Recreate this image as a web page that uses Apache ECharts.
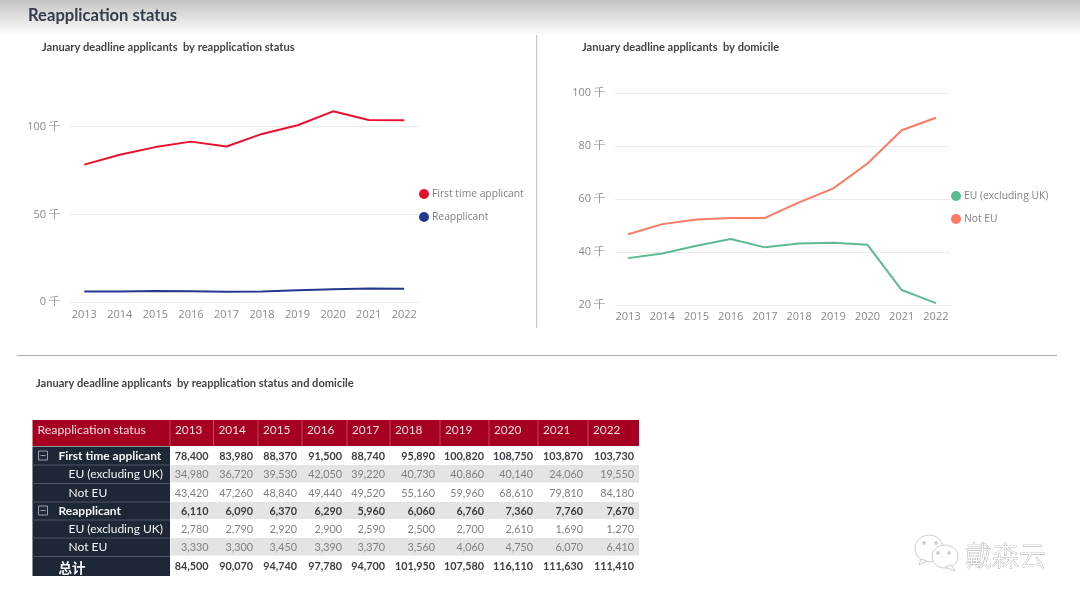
<!DOCTYPE html>
<html><head><meta charset="utf-8">
<style>html,body{margin:0;padding:0;background:#fff}#c{width:1080px;height:603px}</style>
<script src="https://cdn.jsdelivr.net/npm/echarts@6/dist/echarts.min.js"></script>
</head><body><div id="c"></div>
<script>
const years = ['2013','2014','2015','2016','2017','2018','2019','2020','2021','2022'];
const firstTime = [78400,83980,88370,91500,88740,95890,100820,108750,103870,103730];
const firstTimeEU = [34980,36720,39530,42050,39220,40730,40860,40140,24060,19550];
const firstTimeNotEU = [43420,47260,48840,49440,49520,55160,59960,68610,79810,84180];
const reapplicant = [6110,6090,6370,6290,5960,6060,6760,7360,7760,7670];
const reapplicantEU = [2780,2790,2920,2900,2590,2500,2700,2610,1690,1270];
const reapplicantNotEU = [3330,3300,3450,3390,3370,3560,4060,4750,6070,6410];
const grandTotal = [84500,90070,94740,97780,94700,101950,107580,116110,111630,111410];
const domicileEU = [37760,39510,42450,44950,41810,43230,43560,42750,25750,20820];
const domicileNotEU = [46750,50560,52290,52830,52890,58720,64020,73360,85880,90590];
const statusTicksMax = 100000;

const tableRows = [
  {label:'First time applicant', values:firstTime, kind:'group'},
  {label:'EU (excluding UK)', values:firstTimeEU, kind:'sub'},
  {label:'Not EU', values:firstTimeNotEU, kind:'sub'},
  {label:'Reapplicant', values:reapplicant, kind:'group'},
  {label:'EU (excluding UK)', values:reapplicantEU, kind:'sub'},
  {label:'Not EU', values:reapplicantNotEU, kind:'sub'},
  {label:'总计', values:grandTotal, kind:'total'}
];
const colEdges = [170,213.5,258,302,347,390,440,489,538,588,639];
const rowEdges = [447,465,483.5,502,520,538,556.5,576];
const tableLeft = 32.5, headTop = 420, headBottom = 446;
const fmt = v => v.toLocaleString('en-US');
const FONT = 'Lato', AX = '"Open Sans"';

function tableGraphics(){
  const g = [];
  const text = (x,y,t,o) => g.push({type:'text',x,y,silent:true,style:Object.assign({text:t,fontFamily:FONT,fontSize:12,fill:'#444',verticalAlign:'middle',align:'left'},o)});
  const rect = (x,y,w,h,fill,extra) => g.push({type:'rect',silent:true,shape:{x,y,width:w,height:h},style:Object.assign({fill},extra||{})});
  rect(tableLeft,headTop,639-tableLeft,headBottom-headTop,'#A50021');
  [170].concat(colEdges.slice(1,-1)).forEach(x=>rect(x-0.4,headTop,0.8,headBottom-headTop,'#C9596C'));
  text(37.5,430.5,'Reapplication status',{fill:'#F6DDE0',fontSize:12.3});
  years.forEach((y,i)=>text(colEdges[i]+5,430.5,y,{fill:'#F6DDE0',fontSize:11.8}));
  rect(tableLeft,rowEdges[0]-0.5,170-tableLeft,rowEdges[7]-rowEdges[0]+0.5,'#1D2735');
  tableRows.forEach((r,i)=>{
    const top=rowEdges[i],bot=rowEdges[i+1],mid=(top+bot)/2-0.5;
    if(i%2===1) rect(170.5,top,639-170.5,bot-top-1,'#E4E4E4');
    if(i>0) rect(tableLeft,top-0.5,170-tableLeft,1,'#4A5563');
    const bold=r.kind!=='sub';
    const ty=mid+0.8;
    text(r.kind==='sub'?68.5:58.5,r.kind==='total'?ty+1.5:ty,r.label,{fill:'#F3F4F5',fontWeight:bold?'bold':'normal',fontSize:r.kind==='total'?13.5:12,fontFamily:r.kind==='total'?'"Noto Sans CJK SC"':FONT});
    if(r.kind==='group'){
      rect(38.5,mid-4.5,9,9,'rgba(0,0,0,0)',{stroke:'#9AA1AA',lineWidth:1});
      rect(40.5,mid-0.5,5,1,'#9AA1AA');
    }
    r.values.forEach((v,j)=>text(colEdges[j+1]-5,r.kind==='total'?ty-0.5:ty,fmt(v),{align:'right',fontWeight:bold?'bold':'normal',fill:bold?'#3c3f44':'#808080',fontSize:10.8}));
  });
  return g;
}
function watermark(){
  const c='#CFCFCF', g=[];
  const circ=(cx,cy,rx,ry,fill)=>g.push({type:'ellipse',silent:true,shape:{cx,cy,rx,ry},style:{fill,stroke:c,lineWidth:1}});
  circ(929,548.5,14,13.5,'#fff');
  g.push({type:'polygon',silent:true,shape:{points:[[921,559],[919,565],[927,561]]},style:{fill:'#fff',stroke:c}});
  circ(945,556.5,13,11.5,'#fff');
  g.push({type:'polygon',silent:true,shape:{points:[[951,565],[955,571],[945,567]]},style:{fill:'#fff',stroke:c}});
  [[924,543],[936,543],[938,553],[949,553]].forEach(p=>circ(p[0],p[1],1.5,1.5,c));
  g.push({type:'text',silent:true,x:965,y:556,style:{text:'戴森云',fontFamily:'"Noto Sans CJK SC"',fontSize:27,fontWeight:200,fill:'#fff',stroke:'#9a9a9a',lineWidth:0.7,verticalAlign:'middle'}});
  return g;
}
const axisText = {color:'#8a8a8a',fontFamily:AX,fontSize:11};
function xAxis(i,m){return {type:'category',gridIndex:i,data:years,axisLine:{show:false},axisTick:{show:false},axisLabel:Object.assign({margin:m,interval:0},axisText)};}
function yAxis(i,min,max,step,m){return {type:'value',gridIndex:i,min,max,interval:step,axisLine:{show:false},axisTick:{show:false},
  axisLabel:Object.assign({margin:m,padding:[3,0,0,0],formatter:v=>(v/1000)+' 千'},axisText),splitLine:{show:false}};}
// helper grids carry only the horizontal rules, which are shorter than the category bands
function ruleX(i){return {type:'category',gridIndex:i,data:years,show:false};}
function ruleY(i,min,max,step){return {type:'value',gridIndex:i,min,max,interval:step,axisLine:{show:false},axisTick:{show:false},axisLabel:{show:false},splitLine:{lineStyle:{color:'#EBEBEB',width:1}}};}
function line(name,data,color,i){return {type:'line',name,data,xAxisIndex:i,yAxisIndex:i,symbol:'none',clip:false,smooth:false,lineStyle:{color,width:2},itemStyle:{color}};}
function legend(data,left,top){return {data,orient:'vertical',left,top,padding:0,itemWidth:10,itemHeight:10,itemGap:13,icon:'circle',selectedMode:false,
  textStyle:{color:'#808080',fontFamily:AX,fontSize:10.3,padding:[0,0,0,-2]}};}
function title(text,left,top,size,color){return {text,left,top,padding:0,textStyle:{fontFamily:FONT,fontSize:size,fontWeight:'bold',color}};}

const chart = echarts.init(document.getElementById('c'),null,{renderer:'canvas'});
chart.setOption({
  animation:false,backgroundColor:'#fff',
  title:[
    title('Reapplication status',28,7.5,16.6,'#333C4A'),
    title('January deadline applicants  by reapplication status',42,41.5,11.1,'#444'),
    title('January deadline applicants  by domicile',582,41.5,11.1,'#444'),
    title('January deadline applicants  by reapplication status and domicile',36,377.5,11.1,'#444')
  ],
  grid:[
    {left:66.5,width:355.5,top:126.7,height:175.5},
    {left:611,width:342,top:92.8,height:212.5},
    {left:70,width:349,top:126.7,height:175.5},
    {left:615,width:335,top:92.8,height:212.5}
  ],
  xAxis:[xAxis(0,7),xAxis(1,6),ruleX(2),ruleX(3)],
  yAxis:[yAxis(0,0,statusTicksMax,50000,6.5),yAxis(1,20000,100000,20000,6),ruleY(2,0,statusTicksMax,50000),ruleY(3,20000,100000,20000)],
  legend:[legend(['First time applicant','Reapplicant'],419,189),legend(['EU (excluding UK)','Not EU'],951,191)],
  series:[
    line('First time applicant',firstTime,'#E8112D',0),
    line('Reapplicant',reapplicant,'#25388F',0),
    line('EU (excluding UK)',domicileEU,'#5DBB92',1),
    line('Not EU',domicileNotEU,'#FC7A63',1)
  ],
  graphic:{elements:[
    {type:'rect',silent:true,z:-10,shape:{x:0,y:0,width:1080,height:36},style:{fill:new echarts.graphic.LinearGradient(0,0,0,1,[{offset:0,color:'#C4C4C4'},{offset:1,color:'#FFFFFF'}])}},
    {type:'rect',silent:true,shape:{x:536,y:35,width:1.2,height:293},style:{fill:'#C8C8C8'}},
    {type:'rect',silent:true,shape:{x:17,y:355,width:1040,height:1},style:{fill:'#ABABAB'}}
  ].concat(tableGraphics(),watermark())}
});
</script></body></html>
